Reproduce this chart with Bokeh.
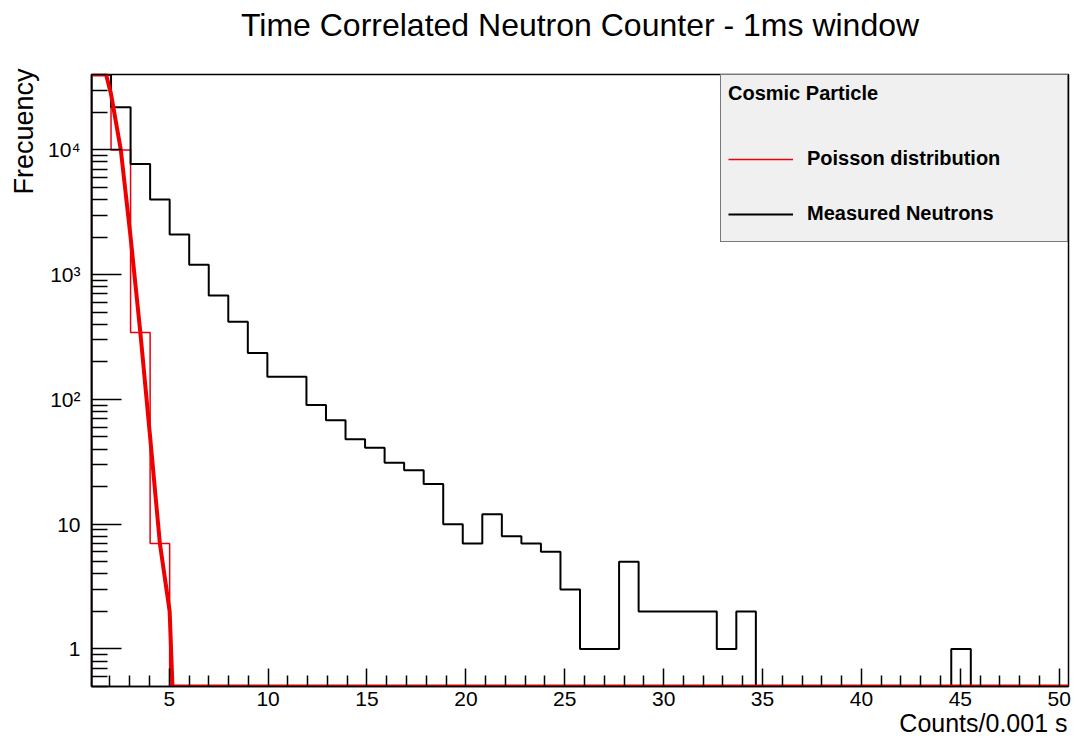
import numpy as np
from bokeh.plotting import figure
from bokeh.models import Range1d, FixedTicker, Legend, LegendItem, Title
from bokeh.embed import file_html
from bokeh.resources import INLINE

# ---- texts ----
title_text = "Time Correlated Neutron Counter - 1ms window"
x_label = "Counts/0.001 s"
y_label = "Frecuency"
legend_header = "Cosmic Particle"
series_names = ["Poisson distribution", "Measured Neutrons"]

# ---- axis ranges / binning ----
x_lo, x_hi = 1.07, 50.47
y_lo, y_hi = 0.5, 40200
n_bins = 50

# ---- data: histogram bin contents (50 bins) ----
measured = [40000, 22000, 7700, 4000, 2100, 1200, 680, 420, 235, 152,
            152, 90, 68, 48, 41, 31, 27, 21, 10, 7,
            12, 8, 7, 6, 3, 1, 1, 5, 2, 2,
            2, 2, 1, 2, 0, 0, 0, 0, 0, 0,
            0, 0, 0, 0, 1, 0, 0, 0, 0, 0]
poisson_hist = [57000, 10000, 344, 7, 0, 0, 0, 0, 0, 0,
                0, 0, 0, 0, 0, 0, 0, 0, 0, 0,
                0, 0, 0, 0, 0, 0, 0, 0, 0, 0,
                0, 0, 0, 0, 0, 0, 0, 0, 0, 0,
                0, 0, 0, 0, 0, 0, 0, 0, 0, 0]

# ---- data: Poisson fit curve vertices ----
fit_x = [1.07, 1.564, 2.058, 2.552, 3.046, 3.54, 4.034, 4.528, 5.022, 5.516, 6.01, 50.47]
fit_y = [50000, 57000, 28000, 10000, 2000, 344, 50, 7, 2.0, 0.016, 0.0001, 0.0001]

# ---- tick labels ----
x_major = [5, 10, 15, 20, 25, 30, 35, 40, 45, 50]
y_major = [1, 10, 100, 1000, 10000]
y_major_labels = ["1", "10", "10\u00b2", "10\u00b3", "10\u2074"]

x_minor = [v for v in range(2, 51) if v % 5 != 0]
y_minor = [m * 10.0 ** e for e in range(-1, 5) for m in range(2, 10)
           if y_lo <= m * 10.0 ** e <= y_hi]


def hist_outline(values):
    edges = np.linspace(x_lo, x_hi, n_bins + 1)
    vals = np.clip(np.asarray(values, dtype=float), y_lo, y_hi)
    xs = np.repeat(edges, 2)
    ys = np.concatenate([[y_lo], np.repeat(vals, 2), [y_lo]])
    return xs, ys


def clamp_log_polyline(xs, ys, lo, hi):
    """Clamp a polyline (straight in log-y) to [lo, hi] like ROOT does."""
    lys = np.log10(np.asarray(ys, dtype=float))
    b_lo, b_hi = np.log10(lo), np.log10(hi)
    ox, oy = [], []
    for i in range(len(xs)):
        x1, y1 = xs[i], lys[i]
        if i > 0:
            x0, y0 = xs[i - 1], lys[i - 1]
            cross = []
            for b in (b_lo, b_hi):
                if (y0 - b) * (y1 - b) < 0:
                    t = (b - y0) / (y1 - y0)
                    cross.append((t, x0 + t * (x1 - x0), b))
            for t, xc, b in sorted(cross):
                ox.append(xc)
                oy.append(b)
        ox.append(x1)
        oy.append(min(max(y1, b_lo), b_hi))
    return np.array(ox), 10 ** np.array(oy)


FONT = "Liberation Sans"

p = figure(width=1075, height=746,
           x_range=Range1d(x_lo, x_hi), y_range=Range1d(y_lo, y_hi),
           y_axis_type="log", output_backend="svg", toolbar_location=None,
           min_border_left=91, min_border_right=7,
           min_border_top=74, min_border_bottom=60)

p.background_fill_color = "white"
p.border_fill_color = "white"
p.grid.visible = False
p.outline_line_color = "black"
p.outline_line_width = 1.5

# gap between frame and main title (ROOT puts the title near the top edge)
p.add_layout(Title(text=" ", text_font_size="1px", standoff=27), "above")
# main title
p.add_layout(Title(text=title_text, align="center", vertical_align="top",
                   standoff=0, text_font=FONT, text_font_size="32px",
                   text_font_style="normal", text_color="black"), "above")

# x axis
xa = p.xaxis[0]
xa.ticker = FixedTicker(ticks=x_major, minor_ticks=x_minor)
xa.major_tick_in = 18
xa.major_tick_out = 0
xa.minor_tick_in = 11
xa.minor_tick_out = 0
xa.major_tick_line_width = 1.5
xa.minor_tick_line_width = 1.5
xa.axis_line_width = 1.5
xa.major_label_text_font = FONT
xa.major_label_text_font_size = "21px"
xa.major_label_text_color = "black"
xa.major_label_standoff = 5

# y axis
ya = p.yaxis[0]
ya.ticker = FixedTicker(ticks=y_major, minor_ticks=y_minor)
ya.major_label_overrides = {float(v): t for v, t in zip(y_major, y_major_labels)}
ya.major_tick_in = 30
ya.major_tick_out = 0
ya.minor_tick_in = 16
ya.minor_tick_out = 0
ya.major_tick_line_width = 1.5
ya.minor_tick_line_width = 1.5
ya.axis_line_width = 1.5
ya.major_label_text_font = FONT
ya.major_label_text_font_size = "21px"
ya.major_label_text_color = "black"
ya.major_label_standoff = 11

# axis titles, ROOT style (at the end of each axis)
x_title = Title(text=x_label, align="right", vertical_align="top", standoff=0,
                offset=1, text_font=FONT, text_font_size="25px",
                text_font_style="normal", text_color="black")
p.add_layout(x_title, "below")
y_title = Title(text=y_label, align="right", vertical_align="top", standoff=10,
                offset=-6, text_font=FONT, text_font_size="27px",
                text_font_style="normal", text_color="black")
p.add_layout(y_title, "left")

# histograms
px_h, py_h = hist_outline(poisson_hist)
r_pois = p.line(px_h, py_h, line_color="#e8000b", line_width=1.5)
mx_h, my_h = hist_outline(measured)
r_meas = p.line(mx_h, my_h, line_color="black", line_width=2)

# fit curve
cx, cy = clamp_log_polyline(fit_x, fit_y, y_lo, y_hi)
p.line(cx, cy, line_color="#ee0000", line_width=4, line_join="round")

legend = Legend(items=[LegendItem(label=series_names[0], renderers=[r_pois]),
                       LegendItem(label=series_names[1], renderers=[r_meas])],
                title=legend_header, location="top_right")
legend.margin = 0
legend.padding = 7
legend.glyph_width = 65
legend.glyph_height = 20
legend.label_standoff = 14
legend.label_width = 253
legend.label_height = 41
legend.spacing = 14
legend.title_standoff = 33
legend.label_text_font = FONT
legend.label_text_font_style = "bold"
legend.label_text_font_size = "20px"
legend.label_text_color = "black"
legend.title_text_font = FONT
legend.title_text_font_style = "bold"
legend.title_text_font_size = "20px"
legend.title_text_color = "black"
legend.border_line_color = "black"
legend.border_line_width = 1.5
legend.background_fill_color = "#f0f0f0"
legend.background_fill_alpha = 1.0
p.add_layout(legend)

open("out.html", "w").write(file_html(p, INLINE))
